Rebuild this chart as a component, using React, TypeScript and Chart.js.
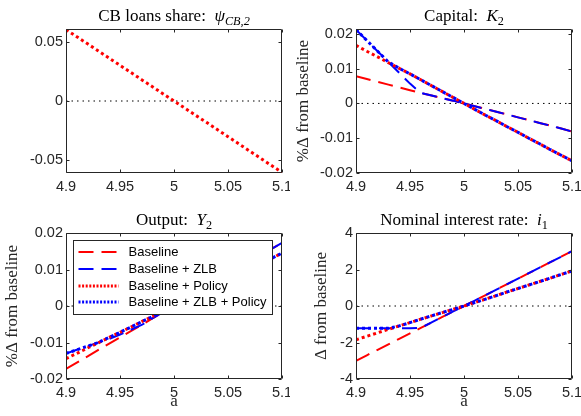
import React, { useEffect, useRef } from "react";
import { Chart, registerables } from "chart.js";

Chart.register(...registerables);

// ---------------- data ----------------
const A_GRID = [4.9, 4.91, 4.92, 4.93, 4.94, 4.95, 4.96, 4.97, 4.98, 4.99, 5.0, 5.01, 5.02, 5.03, 5.04, 5.05, 5.06, 5.07, 5.08, 5.09, 5.1];
const X_TICKS = [4.9, 4.95, 5, 5.05, 5.1];
const X_TICK_LABELS = ["4.9", "4.95", "5", "5.05", "5.1"];

const SERIES_NAMES = ["Baseline", "Baseline + ZLB", "Baseline + Policy", "Baseline + ZLB + Policy"];

// CB loans share psi_{CB,2}
const PSI_POLICY = [0.0605, 0.0545, 0.0484, 0.0424, 0.0363, 0.0302, 0.0242, 0.0181, 0.0121, 0.006, 0, -0.006, -0.0121, -0.0181, -0.0242, -0.0302, -0.0363, -0.0424, -0.0484, -0.0545, -0.0605];
const PSI_TICKS = [-0.05, 0, 0.05];
const PSI_TICK_LABELS = ["-0.05", "0", "0.05"];

// Capital K_2
const K_BASE = [0.0078, 0.007, 0.0062, 0.0054, 0.0046, 0.0038, 0.003, 0.0023, 0.0015, 0.0008, 0, -0.0008, -0.0016, -0.0024, -0.0032, -0.004, -0.0048, -0.0056, -0.0064, -0.0072, -0.0081];
const K_ZLB = [0.0212, 0.0181, 0.015, 0.0119, 0.0088, 0.0057, 0.003, 0.0023, 0.0015, 0.0008, 0, -0.0008, -0.0016, -0.0024, -0.0032, -0.004, -0.0048, -0.0056, -0.0064, -0.0072, -0.0081];
const K_POLICY = [0.0167, 0.015, 0.0134, 0.0117, 0.0101, 0.0085, 0.0068, 0.0051, 0.0034, 0.0017, 0, -0.0017, -0.0034, -0.005, -0.0067, -0.0083, -0.01, -0.0116, -0.0133, -0.0149, -0.0165];
const K_ZLB_POLICY = [0.0212, 0.0181, 0.015, 0.0119, 0.0101, 0.0085, 0.0068, 0.0051, 0.0034, 0.0017, 0, -0.0017, -0.0034, -0.005, -0.0067, -0.0083, -0.01, -0.0116, -0.0133, -0.0149, -0.0165];
const K_TICKS = [-0.02, -0.01, 0, 0.01, 0.02];
const K_TICK_LABELS = ["-0.02", "-0.01", "0", "0.01", "0.02"];

// Output Y_2
const Y_BASE = [-0.0172, -0.0155, -0.0138, -0.012, -0.0103, -0.0086, -0.0069, -0.0052, -0.0034, -0.0017, 0, 0.0017, 0.0035, 0.0052, 0.0069, 0.0087, 0.0104, 0.0121, 0.0138, 0.0156, 0.0173];
const Y_ZLB = [-0.013, -0.012, -0.011, -0.01, -0.009, -0.0078, -0.0065, -0.0052, -0.0034, -0.0017, 0, 0.0017, 0.0035, 0.0052, 0.0069, 0.0087, 0.0104, 0.0121, 0.0138, 0.0156, 0.0173];
const Y_POLICY = [-0.0144, -0.013, -0.0115, -0.0101, -0.0086, -0.0072, -0.0058, -0.0043, -0.0029, -0.0014, 0, 0.0014, 0.0029, 0.0043, 0.0058, 0.0072, 0.0087, 0.0101, 0.0116, 0.013, 0.0145];
const Y_ZLB_POLICY = [-0.013, -0.012, -0.011, -0.01, -0.0086, -0.0072, -0.0058, -0.0043, -0.0029, -0.0014, 0, 0.0014, 0.0029, 0.0043, 0.0058, 0.0072, 0.0087, 0.0101, 0.0116, 0.013, 0.0145];
const Y_TICKS = [-0.02, -0.01, 0, 0.01, 0.02];
const Y_TICK_LABELS = ["-0.02", "-0.01", "0", "0.01", "0.02"];

// Nominal interest rate i_1
const I_BASE = [-3.0, -2.7, -2.4, -2.1, -1.8, -1.5, -1.2, -0.9, -0.6, -0.3, 0, 0.3, 0.6, 0.9, 1.2, 1.5, 1.8, 2.1, 2.4, 2.7, 3.0];
const I_ZLB = [-1.22, -1.22, -1.22, -1.22, -1.22, -1.22, -1.2, -0.9, -0.6, -0.3, 0, 0.3, 0.6, 0.9, 1.2, 1.5, 1.8, 2.1, 2.4, 2.7, 3.0];
const I_POLICY = [-1.85, -1.66, -1.47, -1.28, -1.09, -0.91, -0.72, -0.54, -0.36, -0.18, 0, 0.19, 0.38, 0.57, 0.77, 0.96, 1.15, 1.34, 1.53, 1.73, 1.92];
const I_ZLB_POLICY = [-1.22, -1.22, -1.22, -1.22, -1.09, -0.91, -0.72, -0.54, -0.36, -0.18, 0, 0.19, 0.38, 0.57, 0.77, 0.96, 1.15, 1.34, 1.53, 1.73, 1.92];
const I_TICKS = [-4, -2, 0, 2, 4];
const I_TICK_LABELS = ["-4", "-2", "0", "2", "4"];

// ---------------- styling ----------------
const SANS = '"Liberation Sans", Arial, Helvetica, sans-serif';
const SERIF = '"Liberation Serif", "Times New Roman", serif';
const AXIS_COLOR = "#262626";
const TICK_FONT_SIZE = 14.5;

const STYLES = [
  { color: "#ff0000", width: 2, dash: [15, 8], legendDash: [15, 8] },
  { color: "#0000ff", width: 2, dash: [15, 8], legendDash: [15, 8] },
  { color: "#ff0000", width: 3, dash: [3, 3], legendDash: [2, 1.6] },
  { color: "#0000ff", width: 3, dash: [3, 3], legendDash: [2, 1.6] },
];

type Seg = { t: string; it?: boolean; sub?: boolean };

type PanelDef = {
  left: number; top: number; w: number; h: number;
  area: { l: number; t: number; r: number; b: number };
  yMin: number; yMax: number; yTicks: number[]; yTickLabels: string[];
  title: Seg[]; titleY: number;
  yLabel: string | null; yLabelX: number;
  xLabel: boolean; legend: boolean;
  series: { data: number[]; style: number }[];
};

const PANELS: PanelDef[] = [
  {
    left: 0, top: 0, w: 290, h: 200,
    area: { l: 66, t: 29, r: 282, b: 173 },
    yMin: -0.061, yMax: 0.061, yTicks: PSI_TICKS, yTickLabels: PSI_TICK_LABELS,
    title: [{ t: "CB loans share:  " }, { t: "ψ", it: true }, { t: "CB,2", it: true, sub: true }], titleY: 21,
    yLabel: null, yLabelX: 0, xLabel: false, legend: false,
    series: [{ data: PSI_POLICY, style: 2 }],
  },
  {
    left: 290, top: 0, w: 291, h: 200,
    area: { l: 66, t: 29, r: 282, b: 173 },
    yMin: -0.02, yMax: 0.0214, yTicks: K_TICKS, yTickLabels: K_TICK_LABELS,
    title: [{ t: "Capital:  " }, { t: "K", it: true }, { t: "2", sub: true }], titleY: 21,
    yLabel: "%Δ from baseline", yLabelX: 13.5, xLabel: false, legend: false,
    series: [
      { data: K_BASE, style: 0 },
      { data: K_ZLB, style: 1 },
      { data: K_POLICY, style: 2 },
      { data: K_ZLB_POLICY, style: 3 },
    ],
  },
  {
    left: 0, top: 200, w: 290, h: 216,
    area: { l: 66, t: 33, r: 282, b: 179 },
    yMin: -0.02, yMax: 0.02, yTicks: Y_TICKS, yTickLabels: Y_TICK_LABELS,
    title: [{ t: "Output:  " }, { t: "Y", it: true }, { t: "2", sub: true }], titleY: 25,
    yLabel: "%Δ from baseline", yLabelX: 12.5, xLabel: true, legend: true,
    series: [
      { data: Y_BASE, style: 0 },
      { data: Y_ZLB, style: 1 },
      { data: Y_POLICY, style: 2 },
      { data: Y_ZLB_POLICY, style: 3 },
    ],
  },
  {
    left: 290, top: 200, w: 291, h: 216,
    area: { l: 66, t: 33, r: 282, b: 179 },
    yMin: -4, yMax: 4, yTicks: I_TICKS, yTickLabels: I_TICK_LABELS,
    title: [{ t: "Nominal interest rate:  " }, { t: "i", it: true }, { t: "1", sub: true }], titleY: 25,
    yLabel: "Δ from baseline", yLabelX: 32, xLabel: true, legend: true && false,
    series: [
      { data: I_BASE, style: 0 },
      { data: I_ZLB, style: 1 },
      { data: I_POLICY, style: 2 },
      { data: I_ZLB_POLICY, style: 3 },
    ],
  },
];

function drawRich(ctx: CanvasRenderingContext2D, segs: Seg[], cx: number, baseline: number, size: number) {
  const fontFor = (s: Seg) => `${s.it ? "italic " : ""}${s.sub ? size * 0.72 : size}px ${SERIF}`;
  const widths = segs.map((s) => {
    ctx.font = fontFor(s);
    return ctx.measureText(s.t).width;
  });
  const total = widths.reduce((a, b) => a + b, 0);
  let x = cx - total / 2;
  ctx.textAlign = "left";
  ctx.textBaseline = "alphabetic";
  segs.forEach((s, i) => {
    ctx.font = fontFor(s);
    ctx.fillText(s.t, x, baseline + (s.sub ? size * 0.25 : 0));
    x += widths[i];
  });
}

function makeDecor(p: PanelDef) {
  return {
    id: "panelDecor",
    afterDraw(chart: any) {
      const ctx: CanvasRenderingContext2D = chart.ctx;
      const a = chart.chartArea;
      const xs = chart.scales.x;
      const ys = chart.scales.y;
      ctx.save();
      // frame
      const L = a.left + 0.5, R = a.right - 0.5, T = a.top + 0.5, B = a.bottom - 0.5;
      ctx.strokeStyle = AXIS_COLOR;
      ctx.lineWidth = 1;
      ctx.setLineDash([]);
      ctx.beginPath();
      ctx.rect(L, T, R - L, B - T);
      ctx.stroke();
      // inner tick marks
      const tl = 3;
      ctx.beginPath();
      X_TICKS.forEach((v) => {
        const px = Math.round(xs.getPixelForValue(v)) + 0.5;
        ctx.moveTo(px, B); ctx.lineTo(px, B - tl);
        ctx.moveTo(px, T); ctx.lineTo(px, T + tl);
      });
      p.yTicks.forEach((v) => {
        const py = Math.round(ys.getPixelForValue(v)) + 0.5;
        ctx.moveTo(L, py); ctx.lineTo(L + tl, py);
        ctx.moveTo(R, py); ctx.lineTo(R - tl, py);
      });
      ctx.stroke();

      // title
      ctx.fillStyle = "#000000";
      drawRich(ctx, p.title, (a.left + a.right) / 2, p.titleY, 17);

      // y label
      if (p.yLabel) {
        ctx.save();
        ctx.translate(p.yLabelX, (a.top + a.bottom) / 2);
        ctx.rotate(-Math.PI / 2);
        ctx.font = `17px ${SERIF}`;
        ctx.fillStyle = AXIS_COLOR;
        ctx.textAlign = "center";
        ctx.textBaseline = "middle";
        ctx.fillText(p.yLabel, 0, 0);
        ctx.restore();
      }
      // x label
      if (p.xLabel) {
        ctx.font = `17px ${SERIF}`;
        ctx.fillStyle = AXIS_COLOR;
        ctx.textAlign = "center";
        ctx.textBaseline = "alphabetic";
        ctx.fillText("a", (a.left + a.right) / 2, 206);
      }
      // legend
      if (p.legend) {
        const bl = a.left + 7.5, bt = a.top + 7.5, bw = 199, bh = 74;
        ctx.fillStyle = "#ffffff";
        ctx.fillRect(bl, bt, bw, bh);
        ctx.strokeStyle = AXIS_COLOR;
        ctx.lineWidth = 1;
        ctx.setLineDash([]);
        ctx.strokeRect(bl, bt, bw, bh);
        SERIES_NAMES.forEach((name, i) => {
          const st = STYLES[i];
          const y = Math.round(bt + 11.6 + i * 16.7);
          ctx.strokeStyle = st.color;
          ctx.lineWidth = st.width;
          ctx.setLineDash(st.legendDash);
          ctx.beginPath();
          ctx.moveTo(bl + 5, y);
          ctx.lineTo(bl + 45, y);
          ctx.stroke();
          ctx.setLineDash([]);
          ctx.fillStyle = "#000000";
          ctx.font = `13px ${SANS}`;
          ctx.textAlign = "left";
          ctx.textBaseline = "middle";
          ctx.fillText(name, bl + 55, y);
        });
      }
      ctx.restore();
    },
  };
}

function buildConfig(p: PanelDef): any {
  const datasets: any[] = [];
  // draw order: later series on top (lower order value = on top)
  p.series.forEach((s, i) => {
    const st = STYLES[s.style];
    datasets.push({
      label: SERIES_NAMES[s.style],
      data: A_GRID.map((x, k) => ({ x, y: s.data[k] })),
      borderColor: st.color,
      borderWidth: st.width,
      borderDash: st.dash,
      pointRadius: 0,
      fill: false,
      tension: 0,
      order: 10 - i,
    });
  });
  datasets.push({
    label: "zero",
    data: [{ x: X_TICKS[0], y: 0 }, { x: X_TICKS[X_TICKS.length - 1], y: 0 }],
    borderColor: "#000000",
    borderWidth: 1,
    borderDash: [1.5, 4],
    pointRadius: 0,
    fill: false,
    order: 20,
  });

  const tickFont = { family: SANS, size: TICK_FONT_SIZE };
  return {
    type: "line",
    data: { datasets },
    options: {
      animation: false,
      responsive: false,
      maintainAspectRatio: false,
      events: [],
      layout: { padding: { top: p.area.t, right: p.w - p.area.r, left: 0, bottom: 0 } },
      plugins: { legend: { display: false }, tooltip: { enabled: false }, title: { display: false } },
      scales: {
        x: {
          type: "linear",
          min: X_TICKS[0],
          max: X_TICKS[X_TICKS.length - 1],
          grid: { display: false, drawTicks: false },
          border: { display: false },
          afterBuildTicks: (s: any) => { s.ticks = X_TICKS.map((v) => ({ value: v })); },
          afterFit: (s: any) => { s.height = p.h - p.area.b; s.paddingLeft = 0; s.paddingRight = 0; },
          ticks: {
            font: tickFont, color: AXIS_COLOR, padding: 5, maxRotation: 0, autoSkip: false,
            callback: (_v: any, i: number) => X_TICK_LABELS[i],
          },
        },
        y: {
          type: "linear",
          min: p.yMin,
          max: p.yMax,
          grid: { display: false, drawTicks: false },
          border: { display: false },
          afterBuildTicks: (s: any) => { s.ticks = p.yTicks.map((v) => ({ value: v })); },
          afterFit: (s: any) => { s.width = p.area.l; s.paddingTop = 0; s.paddingBottom = 0; },
          ticks: {
            font: tickFont, color: AXIS_COLOR, padding: 3, autoSkip: false,
            callback: (_v: any, i: number) => p.yTickLabels[i],
          },
        },
      },
    },
    plugins: [makeDecor(p)],
  };
}

function Panel({ p }: { p: PanelDef }) {
  const ref = useRef<HTMLCanvasElement>(null);
  useEffect(() => {
    const c = ref.current;
    if (!c) return;
    const chart = new Chart(c, buildConfig(p));
    return () => chart.destroy();
  }, [p]);
  return (
    <canvas
      ref={ref}
      width={p.w}
      height={p.h}
      style={{ position: "absolute", left: p.left, top: p.top, width: p.w, height: p.h, display: "block" }}
    />
  );
}

export default function App() {
  return (
    <div style={{ position: "absolute", left: 0, top: 0, width: 581, height: 416, background: "#ffffff", overflow: "hidden" }}>
      {PANELS.map((p, i) => (
        <Panel key={i} p={p} />
      ))}
    </div>
  );
}
